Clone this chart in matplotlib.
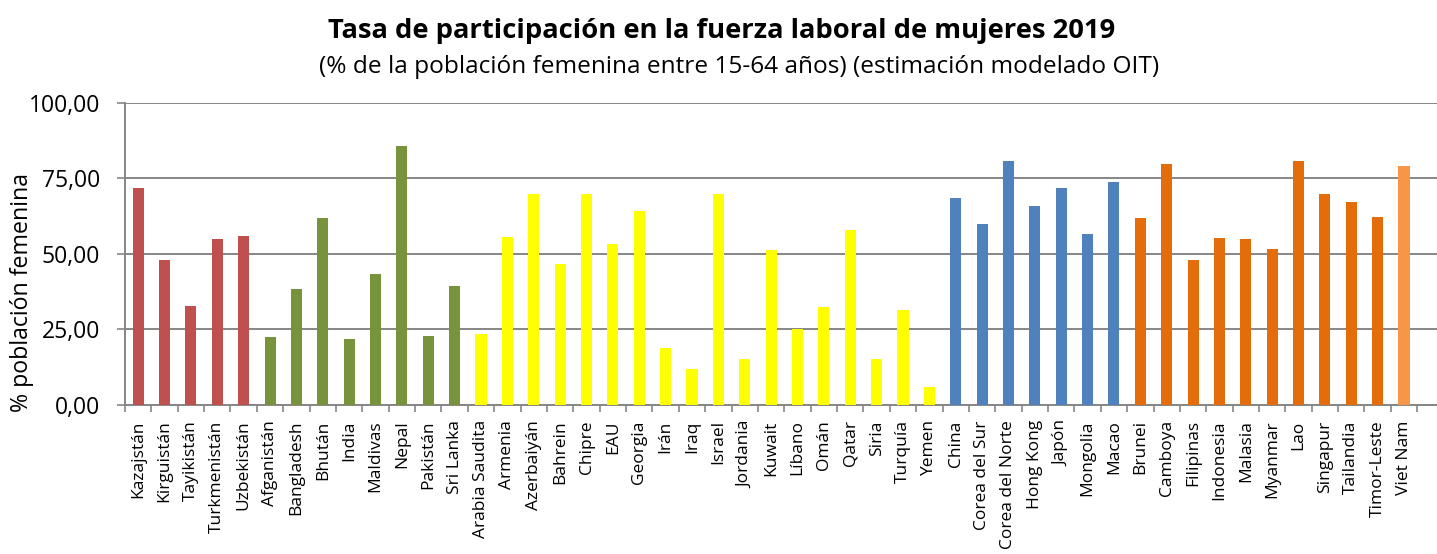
import matplotlib.pyplot as plt
import numpy as np

plt.rcParams['font.family'] = ['Open Sans', 'DejaVu Sans']

# datos por subregion (% poblacion femenina 15-64, 2019)
asia_central = ["Kazajstán", "Kirguistán", "Tayikistán", "Turkmenistán", "Uzbekistán"]
val_central = [71.8, 48.0, 32.7, 54.9, 55.9]

asia_sur = ["Afganistán", "Bangladesh", "Bhután", "India", "Maldivas", "Nepal", "Pakistán", "Sri Lanka"]
val_sur = [22.5, 38.4, 61.9, 21.8, 43.3, 85.7, 22.8, 39.4]

asia_oeste = ["Arabia Saudita", "Armenia", "Azerbaiyán", "Bahrein", "Chipre", "EAU", "Georgia", "Irán",
              "Iraq", "Israel", "Jordania", "Kuwait", "Líbano", "Omán", "Qatar", "Siria", "Turquía", "Yemen"]
val_oeste = [23.5, 55.6, 69.8, 46.6, 69.8, 53.3, 64.2, 18.9,
             11.9, 69.8, 15.2, 51.3, 25.1, 32.4, 57.9, 15.2, 31.4, 6.0]

asia_este = ["China", "Corea del Sur", "Corea del Norte", "Hong Kong", "Japón", "Mongolia", "Macao"]
val_este = [68.5, 59.9, 80.7, 65.8, 71.8, 56.6, 73.8]

asia_sudeste = ["Brunei", "Camboya", "Filipinas", "Indonesia", "Malasia", "Myanmar", "Lao",
                "Singapur", "Tailandia", "Timor-Leste"]
val_sudeste = [61.9, 79.7, 48.0, 55.2, 54.9, 51.6, 80.7, 69.8, 67.1, 62.2]

vietnam = ["Viet Nam"]
val_vietnam = [79.1]

grupos = [
    (asia_central, val_central, "#C0504D"),
    (asia_sur, val_sur, "#77933C"),
    (asia_oeste, val_oeste, "#FFFF00"),
    (asia_este, val_este, "#4F81BD"),
    (asia_sudeste, val_sudeste, "#E46C0A"),
    (vietnam, val_vietnam, "#F79646"),
]

paises = []
valores = []
colores = []
for nombres, vals, col in grupos:
    paises += nombres
    valores += vals
    colores += [col] * len(nombres)

x = np.arange(len(paises))

fig = plt.figure(figsize=(14.37, 5.54), dpi=100)
ax = fig.add_axes([125 / 1437, 1 - 405 / 554, 1 - 125 / 1437, (405 - 102.7) / 554])

ax.bar(x, valores, width=0.42, color=colores, zorder=3)

gris = "#868686"
ax.set_ylim(0, 100)
ax.set_xlim(-0.5, 49.25)
ax.set_yticks([0, 25, 50, 75, 100])
ax.set_yticklabels([f"{v:.2f}".replace(".", ",") for v in [0, 25, 50, 75, 100]], fontsize=16.5)
ax.yaxis.grid(True, color=gris, linewidth=1.4, zorder=0)
ax.tick_params(axis="y", length=6, width=1.2, color=gris, pad=12)

ax.set_xticks(x)
ax.set_xticklabels(paises, rotation=90, fontsize=12.5, va="top", ha="center")
ax.set_xticks(np.arange(-0.5, len(paises)), minor=True)
ax.tick_params(axis="x", which="major", length=0, pad=11)
ax.tick_params(axis="x", which="minor", length=5, width=1.2, color=gris)

for s in ["top", "right"]:
    ax.spines[s].set_visible(False)
for s in ["left", "bottom"]:
    ax.spines[s].set_color(gris)
    ax.spines[s].set_linewidth(1.4)

fig.text(722 / 1437, 1 - 31 / 554, "Tasa de participación en la fuerza laboral de mujeres 2019",
         ha="center", va="center", fontsize=19.7, fontweight="bold")
fig.text(739 / 1437, 1 - 67 / 554, "(% de la población femenina entre 15-64 años) (estimación modelado OIT)",
         ha="center", va="center", fontsize=17.6)
fig.text(22 / 1437, 1 - 293 / 554, "% población femenina", rotation=90,
         ha="center", va="center", fontsize=16.7)

fig.savefig("out.png", dpi=100)
